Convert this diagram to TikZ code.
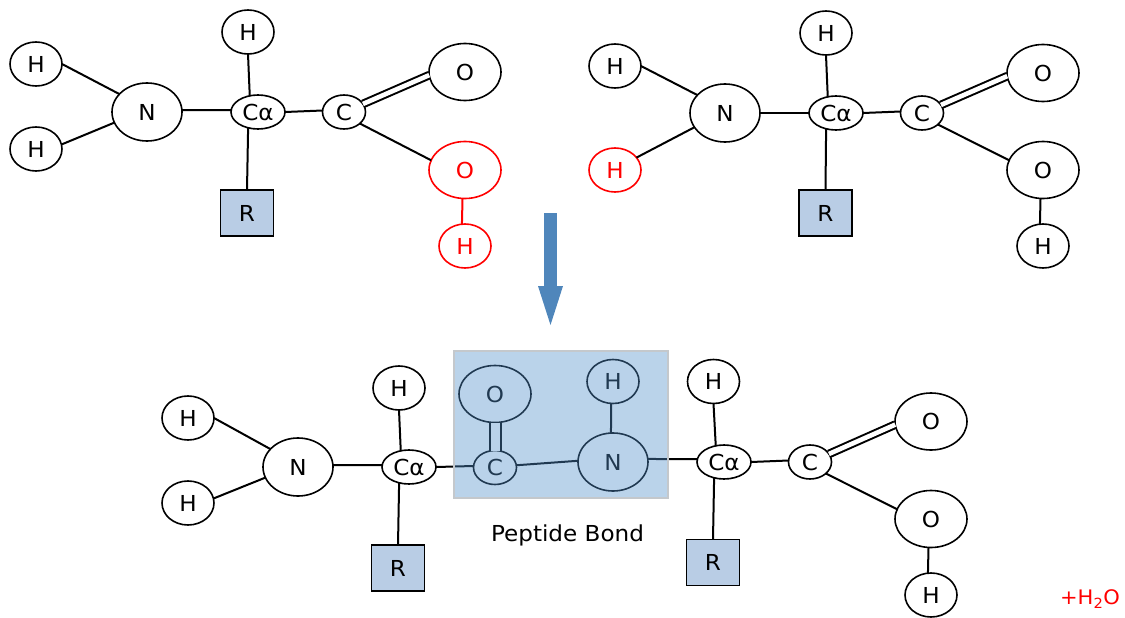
\documentclass[tikz,border=0pt]{standalone}
\usepackage{fontspec}
\setmainfont[FakeStretch=1.05]{DejaVu Sans}
\usetikzlibrary{shapes.geometric}
\usetikzlibrary{arrows.meta}
\definecolor{rgroupblue}{HTML}{B9CDE5}
\definecolor{overlayblue}{HTML}{5290CB}
\definecolor{overlayedge}{HTML}{C4C8CC}
\definecolor{arrowblue}{HTML}{4F86BB}
\tikzset{atomsmall/.style={ellipse,draw=black,fill=white,line width=1.6pt,
inner sep=0pt,outer sep=0pt,minimum width=52pt,minimum height=44pt}}
\tikzset{atomnitrogen/.style={ellipse,draw=black,fill=white,line width=1.6pt,
inner sep=0pt,outer sep=0pt,minimum width=70pt,minimum height=58pt}}
\tikzset{atomoxygen/.style={ellipse,draw=black,fill=white,line width=1.6pt,
inner sep=0pt,outer sep=0pt,minimum width=72pt,minimum height=57pt}}
\tikzset{atomcarbon/.style={ellipse,draw=black,fill=white,line width=1.6pt,
inner sep=0pt,outer sep=0pt,minimum width=43pt,minimum height=34pt}}
\tikzset{atomalpha/.style={ellipse,draw=black,fill=white,line width=1.6pt,
inner sep=0pt,outer sep=0pt,minimum width=54pt,minimum height=34pt}}
\tikzset{rgroup/.style={rectangle,draw=black,fill=rgroupblue,line width=1.5pt,
inner sep=0pt,outer sep=0pt,minimum width=53pt,minimum height=46pt}}
\tikzset{bond/.style={line width=2pt,draw=black}}
\tikzset{doublebond/.style={line width=2pt,double=white,double distance=4.6pt}}
\tikzset{waterlost/.style={draw=red,text=red}}

\begin{document}
\begin{tikzpicture}[x=1pt,y=-1pt,font=\fontsize{22}{24}\selectfont]
    \useasboundingbox (0,0) rectangle (1125,618);

    % first amino acid
    \node[atomsmall] (hAa) at (36, 64) {H};
    \node[atomsmall] (hAb) at (36, 149) {H};
    \node[atomnitrogen] (nA) at (147, 112) {N};
    \node[atomalpha] (caA) at (258, 112) {Cα};
    \node[atomsmall] (hAc) at (248, 32) {H};
    \node[rgroup] (rA) at (247, 213) {R};
    \node[atomcarbon] (cA) at (344, 112) {C};
    \node[atomoxygen] (oAa) at (465, 72) {O};
    \node[atomoxygen,waterlost] (oAb) at (465, 170) {O};
    \node[atomsmall,waterlost] (hAd) at (465, 246) {H};

    \draw[bond] (hAa.0) -- (nA.147);
    \draw[bond] (hAb.10) -- (nA.198);
    \draw[bond] (nA.3) -- (caA.176);
    \draw[bond] (hAc.south) -- (caA.117);
    \draw[bond] (caA.238) -- (rA.north);
    \draw[bond] (caA.east) -- (cA.176);
    \draw[doublebond] (cA.23) -- (oAa.185);
    \draw[bond] (cA.324) -- (oAb.164);
    \draw[bond,red] (oAb.265) -- (hAd.98);

    % second amino acid
    \node[atomsmall] (hBa) at (615, 66) {H};
    \node[atomsmall,waterlost] (hBb) at (615, 170) {H};
    \node[atomnitrogen] (nB) at (725, 113) {N};
    \node[atomalpha] (caB) at (836, 113) {Cα};
    \node[atomsmall] (hBc) at (826, 33) {H};
    \node[rgroup] (rB) at (825.5, 213) {R};
    \node[atomcarbon] (cB) at (922, 113) {C};
    \node[atomoxygen] (oBa) at (1043, 73) {O};
    \node[atomoxygen] (oBb) at (1043, 170) {O};
    \node[atomsmall] (hBd) at (1043, 246) {H};

    \draw[bond] (hBa.0) -- (nB.147);
    \draw[bond] (hBb.30) -- (nB.205);
    \draw[bond] (nB.0) -- (caB.180);
    \draw[bond] (hBc.south) -- (caB.117);
    \draw[bond] (caB.238) -- (rB.north);
    \draw[bond] (caB.east) -- (cB.176);
    \draw[doublebond] (cB.23) -- (oBa.185);
    \draw[bond] (cB.324) -- (oBb.164);
    \draw[bond] (oBb.265) -- (hBd.98);

    % arrow between the rows
    \coordinate (arrowTop) at (550.5, 213);
    \coordinate (arrowTip) at (550.5, 325);
    \draw[arrowblue,line width=13pt,-{Triangle[length=39pt,width=25pt,line width=0pt]}] (arrowTop) -- (arrowTip);

    % dipeptide
    \node[atomsmall] (hCa) at (188, 418) {H};
    \node[atomsmall] (hCb) at (188, 503) {H};
    \node[atomnitrogen] (nC) at (298, 467) {N};
    \node[atomalpha] (caC) at (409, 467) {Cα};
    \node[atomsmall] (hCc) at (399, 388) {H};
    \node[rgroup] (rC) at (398, 568) {R};
    \node[atomcarbon] (cC) at (495, 467.5) {C};
    \node[atomoxygen] (oCa) at (495, 394) {O};
    \node[atomnitrogen] (nD) at (613, 462) {N};
    \node[atomsmall] (hDa) at (613, 381.5) {H};
    \node[atomalpha] (caD) at (724, 462) {Cα};
    \node[atomsmall] (hDb) at (713.5, 381.5) {H};
    \node[rgroup] (rD) at (713, 562.5) {R};
    \node[atomcarbon] (cD) at (810, 462) {C};
    \node[atomoxygen] (oDa) at (931, 421.5) {O};
    \node[atomoxygen] (oDb) at (931, 519) {O};
    \node[atomsmall] (hDc) at (931, 595) {H};

    \draw[bond] (hCa.0) -- (nC.147);
    \draw[bond] (hCb.10) -- (nC.198);
    \draw[bond] (nC.3) -- (caC.176);
    \draw[bond] (hCc.south) -- (caC.117);
    \draw[bond] (caC.238) -- (rC.north);
    \draw[bond] (caC.east) -- (cC.176);
    \draw[line width=2pt,double=white,double distance=9pt] (oCa.south) -- (cC.north);
    \draw[bond] (cC.6) -- (nD.178);
    \draw[bond] (hDa.265) -- (nD.94);
    \draw[bond] (nD.5) -- (caD.174);
    \draw[bond] (hDb.south) -- (caD.117);
    \draw[bond] (caD.238) -- (rD.north);
    \draw[bond] (caD.east) -- (cD.176);
    \draw[doublebond] (cD.23) -- (oDa.185);
    \draw[bond] (cD.324) -- (oDb.164);
    \draw[bond] (oDb.265) -- (hDc.98);

    % tinted box over the bond
    \node[rectangle,draw=overlayedge,line width=1.5pt,fill=overlayblue,fill opacity=0.4,
        inner sep=0pt,minimum width=214pt,minimum height=147pt] (peptideBox) at (561, 424.5) {};
    \node (peptideLabel) at (567.5, 535) {Peptide Bond};
    \node[text=red,font=\fontsize{20}{22}\selectfont] (waterLabel) at (1090, 599) {+H\textsubscript{2}O};
\end{tikzpicture}
\end{document}
